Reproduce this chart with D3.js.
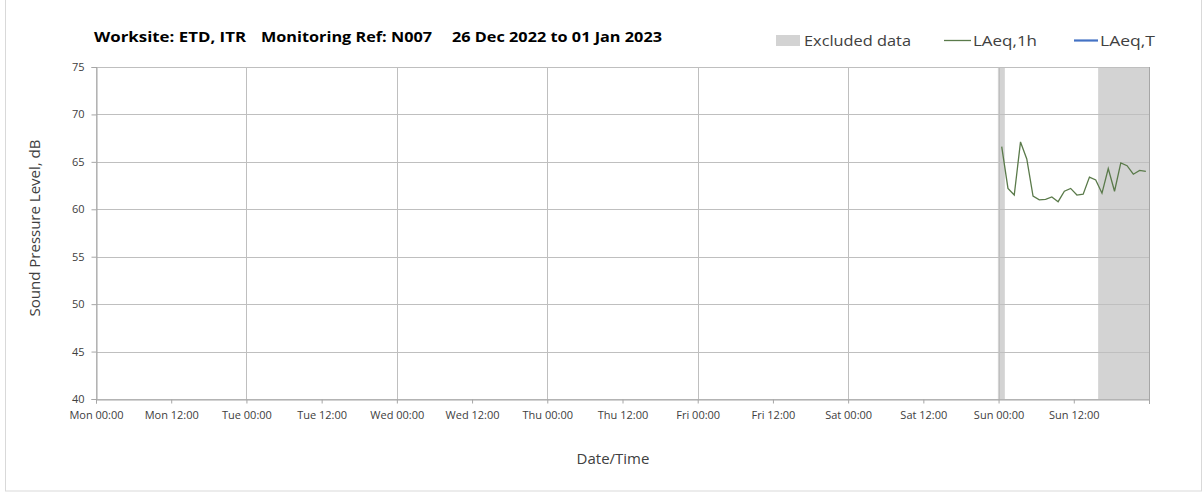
<!DOCTYPE html>
<html>
<head>
<meta charset="utf-8">
<script src="https://cdn.jsdelivr.net/npm/d3@7"></script>
<style>
  html, body { margin: 0; padding: 0; background: #fff; }
  svg { display: block; font-family: "Open Sans", "Noto Sans", sans-serif; }
</style>
</head>
<body>
<svg id="chart" width="1203" height="493"></svg>
<script>
// ---- data ----
const titleParts = ["Worksite: ETD, ITR", "Monitoring Ref: N007", "26 Dec 2022 to 01 Jan 2023"];
const xTickLabels = ["Mon 00:00","Mon 12:00","Tue 00:00","Tue 12:00","Wed 00:00","Wed 12:00",
  "Thu 00:00","Thu 12:00","Fri 00:00","Fri 12:00","Sat 00:00","Sat 12:00","Sun 00:00","Sun 12:00"];
const yTicks = [40, 45, 50, 55, 60, 65, 70, 75];
const laeq1hTimes = ["2023-01-01T00:30","2023-01-01T01:30","2023-01-01T02:30","2023-01-01T03:30",
  "2023-01-01T04:30","2023-01-01T05:30","2023-01-01T06:30","2023-01-01T07:30",
  "2023-01-01T08:30","2023-01-01T09:30","2023-01-01T10:30","2023-01-01T11:30",
  "2023-01-01T12:30","2023-01-01T13:30","2023-01-01T14:30","2023-01-01T15:30",
  "2023-01-01T16:30","2023-01-01T17:30","2023-01-01T18:30","2023-01-01T19:30",
  "2023-01-01T20:30","2023-01-01T21:30","2023-01-01T22:30","2023-01-01T23:30"];
const laeq1hValues = [66.6, 62.2, 61.5, 67.1, 65.3, 61.4, 61.0, 61.05, 61.3, 60.8, 61.9, 62.2,
  61.5, 61.6, 63.4, 63.1, 61.7, 64.3, 61.9, 64.9, 64.6, 63.7, 64.1, 64.0];
const laeqTTimes = [];
const laeqTValues = [];
const excludedStarts = ["2023-01-01T00:00", "2023-01-01T16:00"];
const excludedEnds = ["2023-01-01T01:00", "2023-01-02T00:00"];
const legendLabels = ["Excluded data", "LAeq,1h", "LAeq,T"];

// ---- drawing ----
const parse = d3.timeParse("%Y-%m-%dT%H:%M");
const svg = d3.select("#chart");
const m = { left: 96, right: 1149, top: 67, bottom: 399 };
const x = d3.scaleTime()
  .domain([parse("2022-12-26T00:00"), parse("2023-01-02T00:00")])
  .range([m.left, m.right]);
const y = d3.scaleLinear().domain([40, 75]).range([m.bottom, m.top]);

// outer frame
svg.append("rect").attr("x", 5.5).attr("y", -1).attr("width", 1196).attr("height", 492)
  .attr("fill", "none").attr("stroke", "#d9d9d9");

// excluded bands
svg.append("g").selectAll("rect").data(excludedStarts.map((s, i) => [parse(s), parse(excludedEnds[i])]))
  .join("rect")
  .attr("x", d => x(d[0]) - 0.7)
  .attr("width", d => x(d[1]) - x(d[0]) + 0.7)
  .attr("y", y(75)).attr("height", y(40) - y(75))
  .attr("fill", "#d3d3d3");

// x tick dates every 12h
const xTickDates = xTickLabels.map((_, i) => d3.timeHour.offset(parse("2022-12-26T00:00"), i * 12));
const dayDates = d3.range(0, 8).map(i => d3.timeDay.offset(parse("2022-12-26T00:00"), i));

// grid
const grid = svg.append("g").attr("stroke", "#bfbfbf").attr("stroke-width", 1);
grid.selectAll("line.h").data(yTicks).join("line")
  .attr("x1", m.left).attr("x2", m.right)
  .attr("y1", d => Math.round(y(d)) + 0.5).attr("y2", d => Math.round(y(d)) + 0.5);
grid.selectAll("line.v").data(dayDates).join("line")
  .attr("x1", d => Math.round(x(d)) + 0.5).attr("x2", d => Math.round(x(d)) + 0.5)
  .attr("y1", m.top).attr("y2", m.bottom);

// axes
const yAxis = d3.axisLeft(y).tickValues(yTicks).tickSize(5).tickPadding(7);
const gy = svg.append("g").attr("transform", `translate(${m.left + 0.5},0)`).call(yAxis);
gy.select(".domain").attr("stroke", "#a6a6a6");
gy.selectAll(".tick line").attr("stroke", "#a6a6a6");
gy.selectAll(".tick text").attr("font-size", 11).attr("fill", "#404040")
  .attr("font-family", "Open Sans, sans-serif");

const xAxis = d3.axisBottom(x).tickValues(xTickDates).tickSize(4).tickPadding(8)
  .tickFormat((d, i) => xTickLabels[i]);
const gx = svg.append("g").attr("transform", `translate(0,${m.bottom + 0.5})`).call(xAxis);
gx.select(".domain").attr("stroke", "#a6a6a6");
gx.selectAll(".tick line").attr("stroke", "#a6a6a6");
gx.selectAll(".tick text").attr("font-size", 11).attr("fill", "#404040")
  .attr("font-family", "Open Sans, sans-serif");

// right frame edge
svg.append("line").attr("x1", m.right + 0.5).attr("x2", m.right + 0.5)
  .attr("y1", m.top).attr("y2", m.bottom + 5).attr("stroke", "#a6a6a6");

// LAeq,1h line
const line = d3.line().x(d => x(d[0])).y(d => y(d[1]));
svg.append("path")
  .datum(laeq1hTimes.map((t, i) => [parse(t), laeq1hValues[i]]))
  .attr("d", line).attr("fill", "none").attr("stroke", "#5a7a4a").attr("stroke-width", 1.3);
svg.append("path")
  .datum(laeqTTimes.map((t, i) => [parse(t), laeqTValues[i]]))
  .attr("d", line).attr("fill", "none").attr("stroke", "#4472c4").attr("stroke-width", 2);

// title
const titleX = [94, 261, 452];
const titleW = [152, 171, 210];
svg.append("g").selectAll("text").data(titleParts).join("text")
  .attr("x", (d, i) => titleX[i]).attr("y", 42)
  .attr("textLength", (d, i) => titleW[i]).attr("lengthAdjust", "spacingAndGlyphs")
  .attr("font-size", 15).attr("font-weight", "bold").attr("fill", "#000")
  .text(d => d);

// legend
const lg = svg.append("g").attr("font-size", 15).attr("fill", "#404040");
lg.append("rect").attr("x", 776).attr("y", 35).attr("width", 24).attr("height", 11).attr("fill", "#d3d3d3");
lg.append("text").attr("x", 804).attr("y", 46).attr("textLength", 107).attr("lengthAdjust", "spacingAndGlyphs")
  .attr("fill", "#404040").text(legendLabels[0]);
lg.append("line").attr("x1", 944).attr("x2", 971).attr("y1", 40.5).attr("y2", 40.5)
  .attr("stroke", "#5a7a4a").attr("stroke-width", 1.3);
lg.append("text").attr("x", 973).attr("y", 46).attr("textLength", 64).attr("lengthAdjust", "spacingAndGlyphs")
  .attr("fill", "#404040").text(legendLabels[1]);
lg.append("line").attr("x1", 1074).attr("x2", 1098).attr("y1", 40.5).attr("y2", 40.5)
  .attr("stroke", "#4472c4").attr("stroke-width", 2.2);
lg.append("text").attr("x", 1100).attr("y", 46).attr("textLength", 55).attr("lengthAdjust", "spacingAndGlyphs")
  .attr("fill", "#404040").text(legendLabels[2]);

// axis titles
svg.append("text").attr("transform", "translate(40,228) rotate(-90)")
  .attr("text-anchor", "middle").attr("font-size", 15).attr("fill", "#404040")
  .text("Sound Pressure Level, dB");
svg.append("text").attr("x", 613).attr("y", 464).attr("text-anchor", "middle")
  .attr("font-size", 15).attr("fill", "#404040").text("Date/Time");
</script>
</body>
</html>
